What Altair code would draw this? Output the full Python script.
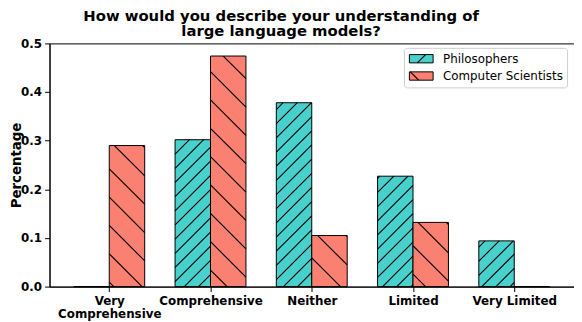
import json
import math
import altair as alt
import pandas as pd

categories = ["Very\nComprehensive", "Comprehensive", "Neither", "Limited", "Very Limited"]
series = ["Philosophers", "Computer Scientists"]
philosophers = [0.0, 0.302, 0.378, 0.227, 0.094]
computer_scientists = [0.290, 0.474, 0.105, 0.132, 0.0]
y_ticks = [0.0, 0.1, 0.2, 0.3, 0.4, 0.5]
colors = ["#48D1CC", "#FA8072"]
title_lines = ["How would you describe your understanding of", "large language models?"]

W, H = 530.5, 246
XMIN, XMAX = -0.59, 4.59
YMAX = 0.5
BAR_W = 0.35
FONT = "DejaVu Sans"

rows = []
for i, cat in enumerate(categories):
    for s, vals, off in ((series[0], philosophers, -BAR_W), (series[1], computer_scientists, 0.0)):
        rows.append({"category": cat, "series": s, "value": vals[i], "base": 0.0,
                     "x0": i + off, "x1": i + off + BAR_W})
bars_df = pd.DataFrame(rows)

# hatch segments (decoration), laid on a common pixel grid and clipped to each bar
px = W / (XMAX - XMIN)
py = H / YMAX
hatch_spec = {"Philosophers": (1, 14.33, 7.0), "Computer Scientists": (-1, 28.67, 7.6)}
hrows = []
for r in rows:
    d, s, ph = hatch_spec[r["series"]]
    xa = (r["x0"] - XMIN) * px
    xb = (r["x1"] - XMIN) * px
    h = r["value"] * py
    if h <= 0:
        continue
    if d == 1:
        cmin, cmax = -xb, h - xa
    else:
        cmin, cmax = xa, xb + h
    for k in range(math.ceil((cmin - ph) / s), math.floor((cmax - ph) / s) + 1):
        c = ph + k * s
        if d == 1:
            lo, hi = max(xa, -c), min(xb, h - c)
            p1, p2 = (lo, lo + c), (hi, hi + c)
        else:
            lo, hi = max(xa, c - h), min(xb, c)
            p1, p2 = (lo, c - lo), (hi, c - hi)
        if hi - lo < 0.6:
            continue
        hrows.append({"x0": p1[0] / px + XMIN, "value": p1[1] / py,
                      "x1": p2[0] / px + XMIN, "base": p2[1] / py})
hatch_df = pd.DataFrame(hrows)

label_expr = f"split({json.dumps(categories)}[round(datum.value)], '\\n')"

x_scale = alt.Scale(domain=[XMIN, XMAX], nice=False, zero=False)
y_scale = alt.Scale(domain=[0, YMAX], nice=False)
color_scale = alt.Scale(domain=series, range=colors)

x_axis = alt.Axis(values=[0, 1, 2, 3, 4], labelExpr=label_expr, title=None, grid=False,
                  tickSize=5, labelPadding=4, labelFont=FONT, labelFontWeight="bold",
                  labelFontSize=12, labelColor="black", tickColor="black",
                  domainColor="black", labelLineHeight=13.5, labelAngle=0,
                  labelOverlap=False)
y_axis = alt.Axis(values=y_ticks, format=".1f", title="Percentage", grid=False,
                  tickSize=5, labelPadding=3, labelFont=FONT, labelFontWeight="bold",
                  labelFontSize=12, labelColor="black", tickColor="black",
                  domainColor="black", titleFont=FONT, titleFontSize=13.5,
                  titleFontWeight="bold", titleColor="black", titleAngle=270,
                  titleBaseline="alphabetic", titleAlign="center", titleX=-29.5,
                  titleY=H / 2)

color_enc = alt.Color("series:N", scale=color_scale, legend=None)

bars = alt.Chart(bars_df).mark_bar(stroke="black", strokeWidth=1).encode(
    x=alt.X("x0:Q", scale=x_scale, axis=x_axis),
    x2="x1:Q",
    y=alt.Y("value:Q", scale=y_scale, axis=y_axis),
    y2="base:Q",
    color=color_enc,
)

hatch = alt.Chart(hatch_df).mark_rule(color="black", strokeWidth=1.1).encode(
    x=alt.X("x0:Q", scale=x_scale, axis=x_axis),
    x2="x1:Q",
    y=alt.Y("value:Q", scale=y_scale, axis=y_axis),
    y2="base:Q",
)

# legend drawn as a small guide in the upper right corner
legend_df = pd.DataFrame({"series": series})
legend_box = alt.Chart(legend_df).transform_filter(
    f"datum.series === '{series[0]}'").mark_rect(
    fill="white", stroke="#cccccc", strokeWidth=1, cornerRadius=3).encode(
    x=alt.value(359), x2=alt.value(524), y=alt.value(5), y2=alt.value(45))

row_y = [15.5, 33.0]
sym_lines = [((372.0, 4.2), (380.4, -4.2)), ((365.0, -4.2), (373.4, 4.2))]
legend_layers = [legend_box]
for s, ry, ((lx1, ly1), (lx2, ly2)) in zip(series, row_y, sym_lines):
    base = alt.Chart(legend_df).transform_filter(f"datum.series === '{s}'")
    legend_layers.append(base.mark_rect(stroke="black", strokeWidth=1).encode(
        x=alt.value(364), x2=alt.value(388), y=alt.value(ry - 4.2), y2=alt.value(ry + 4.2),
        color=color_enc))
    legend_layers.append(base.mark_rule(color="black", strokeWidth=1.1).encode(
        x=alt.value(lx1), x2=alt.value(lx2), y=alt.value(ry + ly1), y2=alt.value(ry + ly2)))
    legend_layers.append(base.mark_text(align="left", baseline="middle", font=FONT,
                                        fontSize=12, color="black").encode(
        x=alt.value(398), y=alt.value(ry), text="series:N"))

chart = alt.layer(bars, hatch, *legend_layers).properties(
    width=W, height=H,
    title=alt.TitleParams(text=title_lines, fontSize=15, font=FONT, fontWeight="bold",
                          anchor="middle", frame="group", dx=-31, offset=-2, lineHeight=15.5,
                          color="black"),
    autosize=alt.AutoSizeParams(type="none"),
    padding={"left": 42, "top": 34, "right": 0, "bottom": 34},
).configure_view(stroke="black", strokeWidth=1)

chart.save("out.html", embed_options={"renderer": "svg", "actions": False})
